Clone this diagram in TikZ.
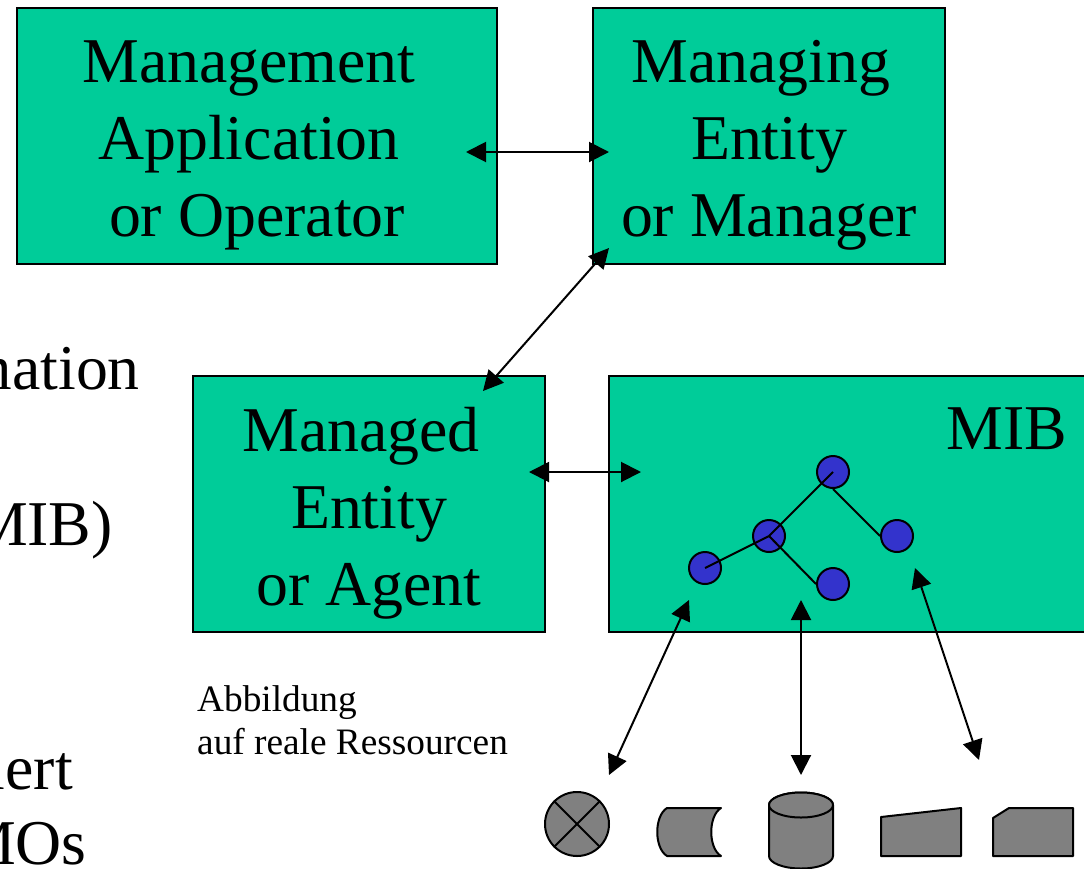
\documentclass[tikz,border=0pt]{standalone}
\usepackage{fontspec}
\setmainfont{Liberation Serif}
\usetikzlibrary{arrows.meta}
\definecolor{boxgreen}{HTML}{00CC99}
\definecolor{treeblue}{HTML}{3333CC}
\definecolor{resgrey}{HTML}{808080}
\tikzset{
	entity/.style={draw=black, line width=2pt, fill=boxgreen, inner sep=0pt, minimum height=256pt},
	entitytext/.style={align=center, inner sep=0pt, yshift=-9.5pt, font=\fontsize{63.8}{77}\selectfont},
	bigtext/.style={font=\fontsize{63.8}{77}\selectfont, inner sep=0pt, anchor=base east},
	smalltext/.style={font=\fontsize{37.3}{43.5}\selectfont, inner sep=0pt, align=left, anchor=north west},
	treenode/.style={circle, draw=black, line width=2pt, fill=treeblue, minimum size=32pt, inner sep=0pt},
	link/.style={line width=2pt, {Triangle[length=20pt,width=20pt]}-{Triangle[length=20pt,width=20pt]}},
	edge/.style={line width=2pt},
	resource/.style={draw=black, line width=2pt, fill=resgrey, line join=round},
}
\begin{document}
\begin{tikzpicture}[x=1pt,y=-1pt]
		\clip[use as bounding box] (0,0) rectangle (1084,868);
		% Text cut off at the left
		\node[bigtext] (txtA) at (140,389) {mation};
		\node[bigtext] (txtB) at (113,545) {MIB)};
		\node[bigtext] (txtC) at (73,789) {iert};
		\node[bigtext] (txtD) at (87,864) {MOs};
		\node[smalltext] (note) at (197,685) {Abbildung\\auf reale Ressourcen};

		% Boxes
		\node[entity, minimum width=480pt] (app) at (257,136) {};
		\node[entitytext] (appText) at (app.center) {Management\kern16pt\\Application\kern16pt\\or Operator};
		\node[entity, minimum width=352pt] (manager) at (769,136) {};
		\node[entitytext] (managerText) at (manager.center) {Managing\kern16pt\\Entity\\or Manager};
		\node[entity, minimum width=352pt] (agent) at (369,504) {};
		\node[entitytext] (agentText) at (agent.center) {Managed\kern16pt\\Entity\\or Agent};
		\node[entity, minimum width=491pt] (mib) at (854.5,504) {};
		\node[bigtext] (mibText) at (1067,449) {MIB};

		% Tree
		\foreach \n/\x/\y in {root/833/472, mid/769/536, left/705/568, low/833/584, right/897/536}
		\node[treenode] (\n) at (\x,\y) {};
		\draw[edge] (root.center) -- (mid.center);
		\draw[edge] (root.south) -- (right.west);
		\draw[edge] (mid.center) -- (left.center);
		\draw[edge] (mid.center) -- (low.west);

		% Free ends of the arrows
		\coordinate (appEnd) at (466,152);
		\coordinate (manEnd) at (609,152);
		\coordinate (manLow) at (609,248);
		\coordinate (agtTop) at (483,391);
		\coordinate (agtEnd) at (529,472);
		\coordinate (mibEnd) at (641,472);
		\coordinate (mibA) at (689,600);
		\coordinate (resA) at (609,775);
		\coordinate (mibB) at (801,600);
		\coordinate (resB) at (801,775);
		\coordinate (mibC) at (915,568);
		\coordinate (resC) at (979,760);

		% Arrows
		\draw[link] (appEnd) -- (manEnd);
		\draw[link] (manLow) -- (agtTop);
		\draw[link] (agtEnd) -- (mibEnd);
		\draw[link] (mibA) -- (resA);
		\draw[link] (mibB) -- (resB);
		\draw[link] (mibC) -- (resC);

		% Resources
		\node[circle, resource, minimum size=64pt, inner sep=0pt] (res) at (577,824) {};
		\draw[edge] (res.north west) -- (res.south east);
		\draw[edge] (res.north east) -- (res.south west);
		\draw[resource] (667,808) -- (721,808) .. controls (708,816) and (708,848) .. (721,856) -- (667,856) .. controls (654,848) and (654,816) .. (667,808) -- cycle;
		\draw[resource] (769,805) -- (769,856) arc[start angle=180, end angle=360, x radius=32, y radius=-12.5] -- (833,805) arc[start angle=0, end angle=180, x radius=32, y radius=-12.5] -- cycle;
		\draw[resource] (801,805) ellipse[x radius=32, y radius=12.5];
		\draw[resource] (881,817) -- (961,808) -- (961,856) -- (881,856) -- cycle;
		\draw[resource] (993,818) -- (1009,808) -- (1073,808) -- (1073,856) -- (993,856) -- cycle;
		\end{tikzpicture}
\end{document}
